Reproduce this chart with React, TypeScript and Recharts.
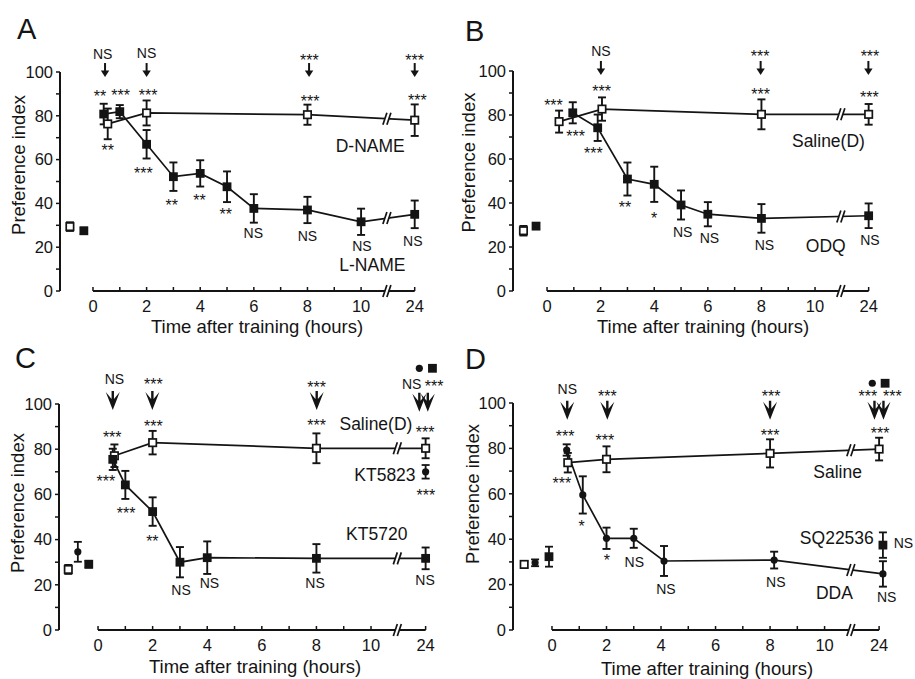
import React from "react";
import {
  ComposedChart,
  Line,
  Scatter,
  XAxis,
  YAxis,
  ErrorBar,
  ReferenceDot,
  ReferenceLine,
} from "recharts";

const INK = "#141414";
const FONT = "'Liberation Sans', Arial, Helvetica, sans-serif";

// x axis: 0-10 h, then the axis break and 24 h (drawn at position 12)
const X_TICKS = [0, 1, 2, 3, 4, 5, 6, 7, 8, 9, 10, 12];
const Y_TICKS = [0, 10, 20, 30, 40, 50, 60, 70, 80, 90, 100];
const BREAK_X = 11;

// ---- A: D-NAME vs L-NAME
const A_DNAME_T = [0.55, 2, 8, 24];
const A_DNAME_V = [76.3, 81.3, 80.5, 78];
const A_DNAME_E = [7, 5.7, 4.6, 7.2];
const A_LNAME_T = [0.4, 1, 2, 3, 4, 5, 6, 8, 10, 24];
const A_LNAME_V = [80.8, 81.9, 67, 52.2, 53.7, 47.6, 37.7, 37, 31.6, 35];
const A_LNAME_E = [4.7, 3, 6.5, 6.5, 6, 7, 6.5, 6, 6, 6.3];
const A_PRE_X = [-0.86, -0.34];
const A_PRE_V = [29.4, 27.5];
const A_PRE_E = [2, 1.4];

// ---- B: Saline(D) vs ODQ
const B_SAL_T = [0.45, 2.05, 8, 24];
const B_SAL_V = [77, 82.7, 80.3, 80.3];
const B_SAL_E = [5, 5.3, 6.8, 4.7];
const B_ODQ_T = [0.96, 1.89, 3, 4, 5, 6, 8, 24];
const B_ODQ_V = [81, 74.2, 50.9, 48.5, 39.1, 34.9, 33, 34.2];
const B_ODQ_E = [4.8, 6, 7.5, 8, 6.6, 5.5, 6.5, 5.6];
const B_PRE_X = [-0.88, -0.41];
const B_PRE_V = [27.4, 29.5];
const B_PRE_E = [2.2, 1.4];

// ---- C: Saline(D), KT5720, KT5823
const C_SAL_T = [0.6, 2, 8, 24];
const C_SAL_V = [77.1, 82.9, 80.4, 80.4];
const C_SAL_E = [5, 5.2, 6.6, 4.4];
const C_KT20_T = [0.54, 1, 2, 3, 4, 8, 24];
const C_KT20_V = [75.5, 64.2, 52.4, 30, 32, 31.7, 31.7];
const C_KT20_E = [4.7, 6.2, 6.3, 6.7, 7.2, 6.3, 4.8];
const C_KT23_T = [24];
const C_KT23_V = [70];
const C_KT23_E = [3];
const C_PRE_X = [-1.09, -0.74, -0.34];
const C_PRE_V = [26.8, 34.6, 29.1];
const C_PRE_E = [2, 4.4, 1.5];

// ---- D: Saline, DDA, SQ22536 (24 h treated points sit a little right of 24)
const D_SAL_T = [0.58, 2, 8, 24];
const D_SAL_V = [73.7, 75.2, 77.8, 79.7];
const D_SAL_E = [4.3, 5.7, 6.2, 5];
const D_DDA_T = [0.54, 1.13, 2, 3, 4.11, 8.15, 24.14];
const D_DDA_V = [79.3, 59.5, 40.4, 40.4, 30.4, 30.8, 24.7];
const D_DDA_E = [2.5, 8.2, 4.7, 4.2, 6.6, 3.7, 5.6];
const D_SQ_T = [24.14];
const D_SQ_V = [37.4];
const D_SQ_E = [5.6];
const D_PRE_X = [-1.02, -0.62, -0.11];
const D_PRE_V = [28.9, 29.6, 32.3];
const D_PRE_E = [1.5, 1.5, 4.4];

type Pt = { x: number; y: number; e: number };
type Mark = "open" | "sq" | "dot";
type Series = { pts: Pt[]; mark: Mark };
// [text, x, y, kind]  n = NS (baseline), s = stars (centre), l = series name (baseline)
type Note = [string, number, number, "n" | "s" | "l"];

const hx = (t: number) => (t >= 24 ? 12 + (t - 24) : t);
const pts = (t: number[], v: number[], e: number[]): Pt[] =>
  t.map((h, i) => ({ x: hx(h), y: v[i], e: e[i] }));
const pre = (x: number[], v: number[], e: number[], marks: Mark[]): Series[] =>
  x.map((xx, i) => ({ pts: [{ x: xx, y: v[i], e: e[i] }], mark: marks[i] }));

const yAt = (p: Pt[], x: number) => {
  for (let i = 0; i < p.length - 1; i++) {
    if (p[i].x <= x && p[i + 1].x >= x) {
      const f = (x - p[i].x) / (p[i + 1].x - p[i].x);
      return p[i].y + f * (p[i + 1].y - p[i].y);
    }
  }
  return p[p.length - 1].y;
};

function marker(kind: Mark, cx: number, cy: number, key?: string) {
  if (kind === "open")
    return (
      <rect key={key} x={cx - 3.7} y={cy - 3.7} width={7.4} height={7.4} fill="#fff" stroke={INK} strokeWidth={1.7} />
    );
  if (kind === "sq")
    return <rect key={key} x={cx - 4.4} y={cy - 4.4} width={8.8} height={8.8} fill={INK} />;
  return <circle key={key} cx={cx} cy={cy} r={3.6} fill={INK} />;
}

const breakMark = (cx: number, cy: number) => (
  <g>
    <polygon points={`${cx - 5},${cy + 6} ${cx - 1},${cy - 6} ${cx + 3},${cy - 6} ${cx - 1},${cy + 6}`} fill="#fff" />
    <line x1={cx - 5} y1={cy + 6} x2={cx - 1} y2={cy - 6} stroke={INK} strokeWidth={1.7} />
    <line x1={cx - 1} y1={cy + 6} x2={cx + 3} y2={cy - 6} stroke={INK} strokeWidth={1.7} />
  </g>
);

const arrow = (cx: number, cy: number) => (
  <g>
    <line x1={cx} y1={cy - 14} x2={cx} y2={cy - 5} stroke={INK} strokeWidth={2} />
    <polygon points={`${cx - 4.2},${cy - 6.5} ${cx + 4.2},${cy - 6.5} ${cx},${cy}`} fill={INK} />
  </g>
);

const stealth = (cx: number, cy: number) => (
  <polygon
    points={`${cx - 7},${cy - 18} ${cx},${cy} ${cx + 7},${cy - 18} ${cx + 1.2},${cy - 11} ${cx + 1.2},${cy - 19} ${cx - 1.2},${cy - 19} ${cx - 1.2},${cy - 11}`}
    fill={INK}
  />
);

type PanelCfg = {
  letter: string;
  lx: number;
  ly: number;
  left: number;
  top: number;
  w: number;
  h: number;
  mt: number;
  mr: number;
  yw: number;
  xd: [number, number];
  lines: Series[];
  lone: Series[];
  notes: Note[];
  arrows: number[][];
  stealth: boolean;
  legend: [Mark, number, number][];
  yTitle: [number, number];
  xTitle: [number, number];
};

const PANELS: PanelCfg[] = [
  {
    letter: "A", lx: 17, ly: 39,
    left: 0, top: 0, w: 455, h: 340, mt: 72, mr: 10, yw: 60, xd: [-1.23, 13.13],
    lines: [
      { pts: pts(A_DNAME_T, A_DNAME_V, A_DNAME_E), mark: "open" },
      { pts: pts(A_LNAME_T, A_LNAME_V, A_LNAME_E), mark: "sq" },
    ],
    lone: pre(A_PRE_X, A_PRE_V, A_PRE_E, ["open", "sq"]),
    notes: [
      ["NS", 0.36, 105.8, "n"], ["NS", 2.0, 106.3, "n"], ["***", 8.07, 107, "s"], ["***", 12.0, 107, "s"],
      ["**", 0.26, 90.3, "s"], ["***", 1.03, 91, "s"], ["***", 2.06, 91, "s"], ["**", 0.55, 65.9, "s"],
      ["***", 8.1, 88.3, "s"], ["***", 12.1, 88.7, "s"], ["***", 1.88, 55.3, "s"], ["**", 2.94, 40.8, "s"],
      ["**", 3.97, 43.1, "s"], ["**", 4.95, 36.7, "s"], ["NS", 5.98, 24.1, "n"], ["NS", 8.0, 23.0, "n"],
      ["NS", 10.03, 18.4, "n"], ["NS", 11.93, 20.7, "n"],
      ["D-NAME", 10.34, 63.6, "l"], ["L-NAME", 10.42, 9.3, "l"],
    ],
    arrows: [[0.45, 97.7], [2.0, 97.7], [8.06, 97.7], [12.0, 97.7]],
    stealth: false,
    legend: [],
    yTitle: [25, -16.5],
    xTitle: [197, 42],
  },
  {
    letter: "B", lx: 465, ly: 40.7,
    left: 455, top: 0, w: 460, h: 340, mt: 71, mr: 15, yw: 58, xd: [-1.27, 13.17],
    lines: [
      { pts: pts(B_SAL_T, B_SAL_V, B_SAL_E), mark: "open" },
      { pts: pts(B_ODQ_T, B_ODQ_V, B_ODQ_E), mark: "sq" },
    ],
    lone: pre(B_PRE_X, B_PRE_V, B_PRE_E, ["open", "sq"]),
    notes: [
      ["NS", 2.01, 106.8, "n"], ["***", 7.95, 108.3, "s"], ["***", 12.05, 108.3, "s"],
      ["***", 2.04, 92.1, "s"], ["***", 0.24, 86.0, "s"], ["***", 1.07, 71.7, "s"], ["***", 1.73, 64.1, "s"],
      ["***", 7.97, 91.0, "s"], ["***", 12.03, 89.5, "s"], ["**", 2.91, 39.5, "s"], ["*", 4.0, 34.5, "s"],
      ["NS", 5.06, 24.4, "n"], ["NS", 6.06, 21.7, "n"], ["NS", 8.11, 18.6, "n"], ["NS", 12.05, 20.9, "n"],
      ["Saline(D)", 10.5, 65.3, "l"], ["ODQ", 10.4, 17.9, "l"],
    ],
    arrows: [[2.01, 98.2], [7.97, 98.2], [11.99, 98.2]],
    stealth: false,
    legend: [],
    yTitle: [19.5, -18.5],
    xTitle: [190, 42],
  },
  {
    letter: "C", lx: 15, ly: 368,
    left: 0, top: 340, w: 455, h: 339, mt: 64, mr: 10, yw: 59, xd: [-1.43, 12.71],
    lines: [
      { pts: pts(C_SAL_T, C_SAL_V, C_SAL_E), mark: "open" },
      { pts: pts(C_KT20_T, C_KT20_V, C_KT20_E), mark: "sq" },
    ],
    lone: [
      ...pre(C_PRE_X, C_PRE_V, C_PRE_E, ["open", "dot", "sq"]),
      { pts: pts(C_KT23_T, C_KT23_V, C_KT23_E), mark: "dot" },
    ],
    notes: [
      ["NS", 0.6, 108.7, "n"], ["***", 2.03, 110.3, "s"], ["***", 8.01, 108.8, "s"], ["NS", 11.49, 106.5, "n"],
      ["***", 12.31, 109.2, "s"], ["***", 0.52, 86.6, "s"], ["***", 2.03, 91.5, "s"], ["***", 8.01, 92.2, "s"],
      ["***", 11.98, 88.8, "s"], ["***", 12.01, 61.2, "s"], ["***", 0.29, 67.1, "s"], ["***", 1.03, 53.1, "s"],
      ["**", 1.99, 40.6, "s"], ["NS", 3.04, 15.5, "n"], ["NS", 4.08, 18.5, "n"], ["NS", 7.95, 18.5, "n"],
      ["NS", 11.98, 19.9, "n"],
      ["Saline(D)", 10.18, 88.5, "l"], ["KT5823", 10.51, 66.1, "l"], ["KT5720", 10.21, 39.8, "l"],
    ],
    arrows: [[0.54, 97.3], [1.99, 97.3], [8.01, 97.3], [11.77, 96.6], [12.08, 96.6]],
    stealth: true,
    legend: [["dot", 11.77, 115.8], ["sq", 12.25, 115.8]],
    yTitle: [23.5, -14],
    xTitle: [196, 43],
  },
  {
    letter: "D", lx: 465, ly: 369,
    left: 455, top: 340, w: 460, h: 339, mt: 63, mr: 10, yw: 58, xd: [-1.43, 12.95],
    lines: [
      { pts: pts(D_SAL_T, D_SAL_V, D_SAL_E), mark: "open" },
      { pts: pts(D_DDA_T, D_DDA_V, D_DDA_E), mark: "dot" },
    ],
    lone: [
      ...pre(D_PRE_X, D_PRE_V, D_PRE_E, ["open", "dot", "sq"]),
      { pts: pts(D_SQ_T, D_SQ_V, D_SQ_E), mark: "sq" },
    ],
    notes: [
      ["NS", 0.56, 103.8, "n"], ["***", 2.03, 104.3, "s"], ["***", 8.04, 104.5, "s"], ["***", 11.59, 104.3, "s"],
      ["***", 12.49, 104.5, "s"], ["***", 0.48, 86.7, "s"], ["***", 1.94, 84.9, "s"], ["***", 8.0, 87.4, "s"],
      ["***", 12.04, 88.1, "s"], ["***", 0.36, 66.1, "s"], ["*", 1.09, 47.3, "s"], ["*", 2.01, 32.0, "s"],
      ["NS", 3.02, 27.6, "n"], ["NS", 4.18, 15.9, "n"], ["NS", 8.21, 18.8, "n"], ["NS", 12.89, 36.0, "n"],
      ["NS", 12.28, 12.5, "n"],
      ["Saline", 10.48, 66.8, "l"], ["SQ22536", 10.45, 37.9, "l"], ["DDA", 10.36, 13.5, "l"],
    ],
    arrows: [[0.56, 92.6], [2.03, 92.6], [8.0, 92.6], [11.83, 92.6], [12.16, 92.6]],
    stealth: true,
    legend: [["dot", 11.75, 108.7], ["sq", 12.22, 108.7]],
    yTitle: [23.5, -22.5],
    xTitle: [194, 45],
  },
];

const XTick = (p: any) => {
  const v = p.payload.value;
  const lab = v === 12 ? "24" : v % 2 === 0 ? String(v) : "";
  return (
    <g>
      <line x1={p.x} x2={p.x} y1={p.y} y2={p.y - 4} stroke={INK} strokeWidth={1.5} />
      <text x={p.x} y={p.y + 21} textAnchor="middle" fontSize={16.5} fill={INK}>
        {lab}
      </text>
    </g>
  );
};

function Panel({ c }: { c: PanelCfg }) {
  const joined = c.lines.filter((s) => s.pts[s.pts.length - 1].x > BREAK_X);
  return (
    <div style={{ position: "absolute", left: c.left, top: c.top }}>
      <ComposedChart width={c.w} height={c.h} margin={{ top: c.mt, right: c.mr, bottom: 0, left: 0 }}>
        <XAxis
          type="number"
          dataKey="x"
          domain={c.xd}
          allowDataOverflow
          ticks={X_TICKS}
          interval={0}
          height={49}
          axisLine={false}
          tickLine={false}
          tickSize={0}
          tickMargin={0}
          tick={<XTick />}
          label={{
            content: ({ viewBox }: any) => (
              <text
                x={viewBox.x + c.xTitle[0]}
                y={viewBox.y + c.xTitle[1]}
                textAnchor="middle"
                fontSize={18.5}
                fill={INK}
              >
                Time after training (hours)
              </text>
            ),
          }}
        />
        <YAxis
          type="number"
          domain={[0, 100]}
          allowDataOverflow
          ticks={Y_TICKS}
          interval={0}
          width={c.yw}
          tickFormatter={(v: number) => (v % 20 === 0 ? String(v) : "")}
          axisLine={{ stroke: INK, strokeWidth: 2 }}
          tickLine={{ stroke: INK, strokeWidth: 1.5 }}
          tickSize={4}
          tickMargin={3}
          tick={{ fontSize: 16.5, fill: INK }}
          label={{
            content: ({ viewBox }: any) => (
              <text
                transform={`translate(${viewBox.x + c.yTitle[0]}, ${viewBox.y + viewBox.height / 2 + c.yTitle[1]}) rotate(-90)`}
                textAnchor="middle"
                fontSize={18.5}
                fill={INK}
              >
                Preference index
              </text>
            ),
          }}
        />
        <ReferenceLine
          segment={[{ x: 0, y: 0 }, { x: 12, y: 0 }]}
          stroke={INK}
          strokeWidth={2}
          ifOverflow="visible"
        />
        {c.lone.map((s, i) => (
          <Scatter
            key={`p${i}`}
            data={s.pts}
            dataKey="y"
            isAnimationActive={false}
            shape={(p: any) => marker(s.mark, p.cx, p.cy)}
          >
            <ErrorBar dataKey="e" direction="y" width={4} stroke={INK} strokeWidth={1.8} />
          </Scatter>
        ))}
        {c.lines.map((s, i) => (
          <Line
            key={`l${i}`}
            data={s.pts}
            dataKey="y"
            type="linear"
            stroke={INK}
            strokeWidth={1.7}
            isAnimationActive={false}
            activeDot={false}
            dot={(p: any) => marker(s.mark, p.cx, p.cy, `m${i}-${p.index}`)}
          >
            <ErrorBar dataKey="e" direction="y" width={4} stroke={INK} strokeWidth={1.9} />
          </Line>
        ))}
        {joined.map((s, i) => (
          <ReferenceDot
            key={`b${i}`}
            x={BREAK_X}
            y={yAt(s.pts, BREAK_X)}
            r={0}
            ifOverflow="visible"
            shape={(p: any) => breakMark(p.cx, p.cy)}
          />
        ))}
        <ReferenceDot x={BREAK_X} y={0} r={0} ifOverflow="visible" shape={(p: any) => breakMark(p.cx, p.cy)} />
        {c.arrows.map(([x, y], i) => (
          <ReferenceDot
            key={`a${i}`}
            x={x}
            y={y}
            r={0}
            ifOverflow="visible"
            shape={(p: any) => (c.stealth ? stealth(p.cx, p.cy) : arrow(p.cx, p.cy))}
          />
        ))}
        {c.legend.map(([m, x, y], i) => (
          <ReferenceDot
            key={`g${i}`}
            x={x}
            y={y}
            r={0}
            ifOverflow="visible"
            shape={(p: any) => marker(m, p.cx, p.cy)}
          />
        ))}
        {c.notes.map(([t, x, y, k], i) => (
          <ReferenceDot
            key={`n${i}`}
            x={x}
            y={y}
            r={0}
            ifOverflow="visible"
            shape={(p: any) => (
              <text
                x={p.cx}
                y={k === "s" ? p.cy + 9 : p.cy}
                textAnchor="middle"
                fontSize={k === "s" ? 16 : k === "n" ? 14 : 17.5}
                fill={INK}
              >
                {t}
              </text>
            )}
          />
        ))}
      </ComposedChart>
    </div>
  );
}

export default function App() {
  return (
    <div
      style={{
        position: "absolute",
        left: 0,
        top: 0,
        width: 915,
        height: 679,
        background: "#fff",
        fontFamily: FONT,
        overflow: "hidden",
      }}
    >
      {PANELS.map((c) => (
        <Panel key={c.letter} c={c} />
      ))}
      <svg width={915} height={679} style={{ position: "absolute", left: 0, top: 0, pointerEvents: "none" }}>
        {PANELS.map((c) => (
          <text key={c.letter} x={c.lx} y={c.ly} fontSize={29} fill={INK}>
            {c.letter}
          </text>
        ))}
      </svg>
    </div>
  );
}
